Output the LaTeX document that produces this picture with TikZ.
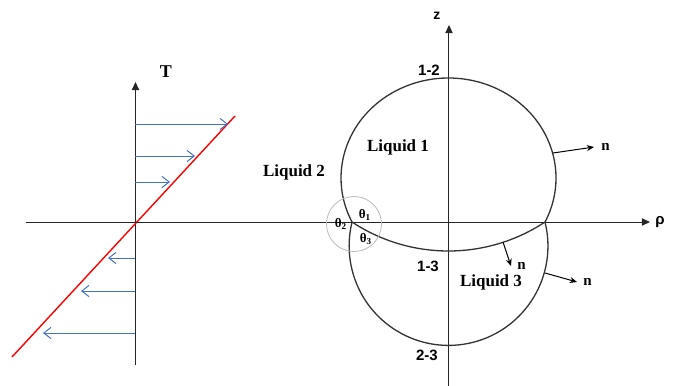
\documentclass[tikz,border=0pt]{standalone}
\usepackage{fontspec}
\setmainfont{Liberation Serif}
\setsansfont{Liberation Sans}
\usetikzlibrary{arrows.meta}
\definecolor{fluxblue}{RGB}{68,114,196}

\begin{document}
\begin{tikzpicture}[
                x=0.5pt, y=-0.5pt,
                % Styles of lines and labels
                axis/.style={
                    black!85,
                    line width=0.5pt,
                    -{Triangle[length=4pt, width=3.6pt]}
                },
                interface/.style={
                    black!80,
                    line width=0.65pt
                },
                normal arrow/.style={
                    black,
                    line width=0.5pt,
                    -{Stealth[length=3.6pt, width=3pt]}
                },
                flux arrow/.style={
                    fluxblue,
                    line width=0.5pt,
                    -{Straight Barb[length=3.6pt, width=5.6pt]}
                },
                liquid label/.style={
                    font=\fontsize{8.5}{10}\selectfont\bfseries
                },
                pair label/.style={
                    font=\sffamily\fontsize{7.5}{9}\selectfont\bfseries
                },
                normal label/.style={
                    font=\fontsize{7.5}{9}\selectfont\bfseries,
                    anchor=west,
                    inner sep=3pt
                },
                angle label/.style={
                    font=\fontsize{6.5}{7}\selectfont\bfseries,
                    inner sep=0pt
                }
            ]
                \useasboundingbox (0,0) rectangle (677,386);

                % --- AXES POSITIONS ---
                \def\yRho{222}
                \def\xT{135.5}
                \def\xZ{449}

                % --- TEMPERATURE PROFILE (left) ---
                \coordinate (Tbot) at (\xT, 365);
                \coordinate (Ttop) at (\xT, 82);
                \node[font=\fontsize{9}{10}\selectfont\bfseries] (Tlab) at (166, 72) {T};
                \draw[axis] (Tbot) -- (Ttop);

                \coordinate (Tlow) at (12, 357);
                \coordinate (Thigh) at (235, 116);
                \draw[red, line width=0.7pt] (Tlow) -- (Thigh);

                \foreach \yA/\xB [count=\i] in {124/228, 156/195, 182/170, 258/108, 291/81, 333/43} {
                    \coordinate (fa\i) at (\xT, \yA);
                    \coordinate (fb\i) at (\xB, \yA);
                    \draw[flux arrow] (fa\i) -- (fb\i);
                }

                % --- RHO AND Z AXES ---
                \coordinate (Rleft) at (26, \yRho);
                \coordinate (Rright) at (650, \yRho);
                \draw[axis] (Rleft) -- (Rright);
                \node[font=\sffamily\fontsize{7.5}{9}\selectfont\bfseries] (rho) at (660, \yRho) {ρ};

                \coordinate (Zbot) at (\xZ, 386);
                \coordinate (Ztop) at (\xZ, 25);
                \draw[axis] (Zbot) -- (Ztop);
                \node[font=\sffamily\fontsize{7}{8}\selectfont\bfseries] (zlab) at (437, 16) {z};

                % --- DROPS AND INTERFACES ---
                \coordinate (TL) at (352, \yRho);
                \coordinate (TR) at (545, \yRho);

                % Interface 1-2
                \draw[interface] (TL) arc[start angle=153.9, end angle=386.1, x radius=107.5, y radius=100];
                % Interface 2-3
                \draw[interface] (TR) arc[start angle=-13.97, end angle=193.97, radius=99.4];
                % Interface 1-3
                \draw[interface] (TL) arc[start angle=123.45, end angle=56.55, radius=175.1];

                % Contact line detail
                \draw[gray!55, line width=0.4pt] (354, 224) circle[radius=27.5];
                \node[angle label] (th1) at (365, 215) {θ\textsubscript{1}};
                \node[angle label] (th2) at (341, 224) {θ\textsubscript{2}};
                \node[angle label] (th3) at (366, 239) {θ\textsubscript{3}};

                % --- LABELS ---
                \node[liquid label] (liq1) at (398, 147) {Liquid 1};
                \node[liquid label] (liq2) at (294, 172) {Liquid 2};
                \node[liquid label] (liq3) at (491, 282) {Liquid 3};

                \node[pair label] (p12) at (429, 70) {1-2};
                \node[pair label] (p13) at (428, 266) {1-3};
                \node[pair label] (p23) at (427, 355) {2-3};

                % --- NORMAL VECTORS ---
                \coordinate (s1) at (553, 153);
                \coordinate (s2) at (503, 242);
                \coordinate (s3) at (545, 273);
                \node[normal label, inner sep=3.5pt] (n1) at (594, 147) {n};
                \node[normal label] (n2) at (511, 266) {n};
                \node[normal label] (n3) at (577, 282) {n};
                \draw[normal arrow] (s1) -- (n1.west);
                \draw[normal arrow] (s2) -- (n2.west);
                \draw[normal arrow] (s3) -- (n3.west);

            \end{tikzpicture}
\end{document}
